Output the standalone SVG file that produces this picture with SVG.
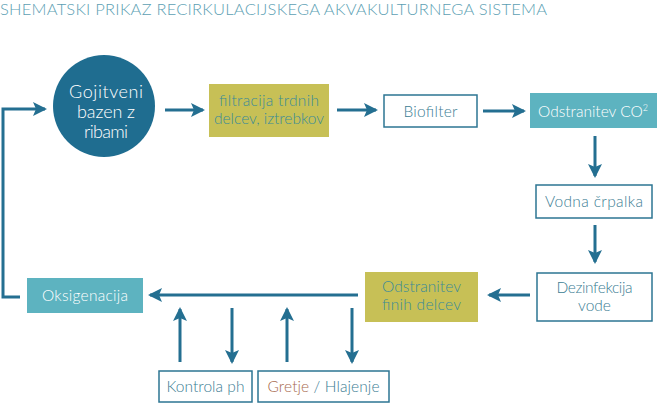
<svg xmlns="http://www.w3.org/2000/svg" width="658" height="404" viewBox="0 0 658 404">
<style>
.t{font-family:Lato,"Liberation Sans",sans-serif;font-weight:300;font-size:15.5px;text-anchor:middle}
.title{font-family:Lato,"Liberation Sans",sans-serif;font-weight:300;font-size:16.5px;fill:#5d9fb4}
.big{font-size:18px}
.box{fill:#fff;stroke:#2d7593;stroke-width:1.5}
.yel{fill:#c7c056}
.tea{fill:#5db3c0}
.dk{fill:#3b7d93}
.yt{fill:#3a8b99}
.wt{fill:#fff}
.c{fill:none;stroke:#246f91;stroke-width:3}
</style>
<defs>
<marker id="ah" viewBox="0 0 14 14" refX="12" refY="7" markerWidth="14" markerHeight="14" markerUnits="userSpaceOnUse" orient="auto">
<path d="M0,0 L14,7 L0,14 L3,7 Z" fill="#246f91"/>
</marker>
</defs>
<text class="title" x="0" y="15" textLength="547" lengthAdjust="spacing">SHEMATSKI PRIKAZ RECIRKULACIJSKEGA AKVAKULTURNEGA SISTEMA</text>
<g id="connectors">
<path class="c" d="M20,297 H3 V109 H45" marker-end="url(#ah)"/>
<path class="c" d="M165,110 H203" marker-end="url(#ah)"/>
<path class="c" d="M337,110 H376" marker-end="url(#ah)"/>
<path class="c" d="M483,111 H524" marker-end="url(#ah)"/>
<path class="c" d="M595,136 V176" marker-end="url(#ah)"/>
<path class="c" d="M595,225 V262" marker-end="url(#ah)"/>
<path class="c" d="M530,295 H489" marker-end="url(#ah)"/>
<path class="c" d="M358,295 H150" marker-end="url(#ah)"/>
<path class="c" d="M180,362 V309" marker-end="url(#ah)"/>
<path class="c" d="M232,308 V362" marker-end="url(#ah)"/>
<path class="c" d="M287,362 V309" marker-end="url(#ah)"/>
<path class="c" d="M352,308 V362" marker-end="url(#ah)"/>
</g>
<g id="bazen">
<circle cx="104" cy="106" r="51" fill="#1f6d90"/>
<text class="t wt big" x="106" y="98" textLength="74" lengthAdjust="spacing">Gojitveni</text>
<text class="t wt big" x="106" y="118" textLength="58" lengthAdjust="spacing">bazen z</text>
<text class="t wt big" x="106" y="138" textLength="44" lengthAdjust="spacing">ribami</text>
</g>
<g id="filtracija">
<rect class="yel" x="209" y="84" width="120" height="53"/>
<text class="t yt" x="269" y="106" textLength="100" lengthAdjust="spacing">filtracija trdnih</text>
<text class="t yt" x="269" y="124" textLength="110" lengthAdjust="spacing">delcev, iztrebkov</text>
</g>
<g id="biofilter">
<rect class="box" x="384" y="95" width="93" height="32"/>
<text class="t dk" x="430.5" y="117" textLength="54" lengthAdjust="spacing">Biofilter</text>
</g>
<g id="co2">
<rect class="tea" x="530" y="93" width="127" height="35"/>
<text class="t wt" x="593" y="117">Odstranitev CO<tspan dy="-6" style="font-size:9px">2</tspan></text>
</g>
<g id="crpalka">
<rect class="box" x="536" y="185" width="116" height="33"/>
<text class="t dk" x="594" y="207" textLength="98" lengthAdjust="spacing">Vodna črpalka</text>
</g>
<g id="dezinfekcija">
<rect class="box" x="537" y="273" width="115" height="48"/>
<text class="t dk" x="594.5" y="293" textLength="76" lengthAdjust="spacing">Dezinfekcija</text>
<text class="t dk" x="594.5" y="311">vode</text>
</g>
<g id="fini">
<rect class="yel" x="365" y="272" width="113" height="50"/>
<text class="t yt" x="421.5" y="292" textLength="79" lengthAdjust="spacing">Odstranitev</text>
<text class="t yt" x="421.5" y="310" textLength="79" lengthAdjust="spacing">finih delcev</text>
</g>
<g id="oksigenacija">
<rect class="tea" x="27" y="278" width="116" height="35"/>
<text class="t wt" x="85" y="301" textLength="86" lengthAdjust="spacing">Oksigenacija</text>
</g>
<g id="kontrola">
<rect class="box" x="159" y="371" width="93" height="31"/>
<text class="t dk" x="205.5" y="392" textLength="78" lengthAdjust="spacing">Kontrola ph</text>
</g>
<g id="gretje">
<rect class="box" x="258" y="371" width="131" height="31"/>
<text class="t dk" x="323.5" y="392" textLength="112" lengthAdjust="spacing"><tspan fill="#a86a4e">Gretje</tspan> / Hlajenje</text>
</g>
</svg>
